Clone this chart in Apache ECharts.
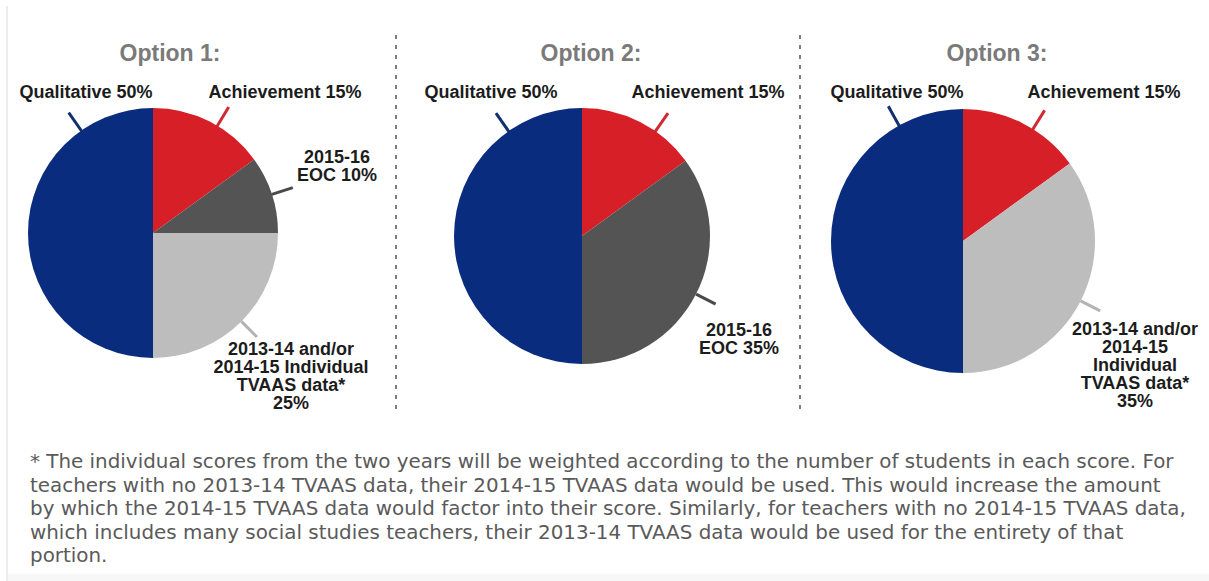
<!DOCTYPE html>
<html>
<head>
<meta charset="utf-8">
<script src="https://cdn.jsdelivr.net/npm/echarts@6/dist/echarts.min.js"></script>
<style>
html, body { margin: 0; padding: 0; background: #fff; }
#main { width: 1209px; height: 581px; }
</style>
</head>
<body>
<div id="main"></div>
<script>
// chart data
var optionTitles = ['Option 1:', 'Option 2:', 'Option 3:'];

var option1Names = ['Achievement', 'EOC', 'TVAAS', 'Qualitative'];
var option1Values = [15, 10, 25, 50];
var option1Labels = ['Achievement 15%', '2015-16\nEOC 10%', '2013-14 and/or\n2014-15 Individual\nTVAAS data*\n25%', 'Qualitative 50%'];

var option2Names = ['Achievement', 'EOC', 'Qualitative'];
var option2Values = [15, 35, 50];
var option2Labels = ['Achievement 15%', '2015-16\nEOC 35%', 'Qualitative 50%'];

var option3Names = ['Achievement', 'TVAAS', 'Qualitative'];
var option3Values = [15, 35, 50];
var option3Labels = ['Achievement 15%', '2013-14 and/or\n2014-15\nIndividual\nTVAAS data*\n35%', 'Qualitative 50%'];

var footnoteLines = [
	'* The individual scores from the two years will be weighted according to the number of students in each score. For',
	'teachers with no 2013-14 TVAAS data, their 2014-15 TVAAS data would be used. This would increase the amount',
	'by which the 2014-15 TVAAS data would factor into their score. Similarly, for teachers with no 2014-15 TVAAS data,',
	'which includes many social studies teachers, their 2013-14 TVAAS data would be used for the entirety of that',
	'portion.'
];

// look
var sliceColors = { Achievement: '#d71f27', EOC: '#545454', TVAAS: '#bdbdbd', Qualitative: '#0a2c7f' };
var lineColors = { Achievement: '#d02a33', EOC: '#4a4a4a', TVAAS: '#b3b3b3', Qualitative: '#12306e' };

// layout
var pieCenters = [[153, 233], [582, 236], [963, 241]];
var pieRadii = [125, 128, 132];
var titleX = [170, 591, 997];
var dividerX = [396, 800];
// label anchor offset from pie centre + leader angle (deg clockwise from top, null = slice middle)
var labelSpots = [
	{ Achievement: [132, -141, 31], EOC: [184, -67, null], TVAAS: [138, 143, null], Qualitative: [-67, -141, -35] },
	{ Achievement: [126, -144, 35], EOC: [157, 103, null], Qualitative: [-91, -144, -35] },
	{ Achievement: [141, -149, 32], TVAAS: [172, 124, null], Qualitative: [-66, -149, -29] }
];

function makeLayout(si, names) {
	return function (params) {
		var c = pieCenters[si], r = pieRadii[si];
		var spot = labelSpots[si][names[params.dataIndex]];
		var pts = params.labelLinePoints;
		if (spot[2] !== null) {
			var a = spot[2] * Math.PI / 180;
			var sx = Math.sin(a), sy = -Math.cos(a);
			var p1 = [c[0] + sx * (r - 2), c[1] + sy * (r - 2)];
			var p2 = [c[0] + sx * (r + 22), c[1] + sy * (r + 22)];
			pts = [p1, p2, p2];
		}
		return {
			x: c[0] + spot[0],
			y: c[1] + spot[1],
			align: 'center',
			verticalAlign: 'middle',
			labelLinePoints: pts
		};
	};
}

function pieSeries(si, names, values, labels) {
	return {
		type: 'pie',
		center: pieCenters[si],
		radius: pieRadii[si],
		startAngle: 90,
		clockwise: true,
		avoidLabelOverlap: false,
		silent: true,
		animation: false,
		data: names.map(function (n, k) {
			return {
				name: n,
				value: values[k],
				itemStyle: { color: sliceColors[n] },
				labelLine: { lineStyle: { color: lineColors[n] } }
			};
		}),
		label: {
			show: true,
			position: 'outside',
			alignTo: 'none',
			formatter: function (p) { return labels[p.dataIndex]; },
			color: '#1c1c1c',
			fontFamily: '"Liberation Sans", Arial, sans-serif',
			fontWeight: 'bold',
			fontSize: 18,
			lineHeight: 18
		},
		labelLine: { show: true, length: 22, length2: 0, lineStyle: { width: 3 } },
		labelLayout: makeLayout(si, names)
	};
}

var graphics = [];
graphics.push({ type: 'line', shape: { x1: 7, y1: 6, x2: 7, y2: 581 }, style: { stroke: '#ececec', lineWidth: 2 } });
graphics.push({ type: 'rect', shape: { x: 8, y: 574, width: 1201, height: 7 }, style: { fill: '#f7f7f7' } });
for (var i = 0; i < optionTitles.length; i++) {
	graphics.push({
		type: 'text', x: titleX[i], y: 53,
		style: { text: optionTitles[i], align: 'center', verticalAlign: 'middle', font: 'bold 23px "Liberation Sans", Arial, sans-serif', fill: '#7a7a7a' }
	});
}
for (var j = 0; j < dividerX.length; j++) {
	graphics.push({
		type: 'line', shape: { x1: dividerX[j], y1: 35, x2: dividerX[j], y2: 410 },
		style: { stroke: '#7d7d7d', lineWidth: 2, lineDash: [4, 6] }
	});
}
graphics.push({
	type: 'text', x: 30, y: 450,
	style: { text: footnoteLines.join('\n'), align: 'left', verticalAlign: 'top', font: '19.9px "DejaVu Sans", Verdana, sans-serif', lineHeight: 23.5, fill: '#5a5a5a' }
});

var chart = echarts.init(document.getElementById('main'), null, { renderer: 'svg' });
chart.setOption({
	backgroundColor: '#ffffff',
	animation: false,
	graphic: graphics,
	series: [
		pieSeries(0, option1Names, option1Values, option1Labels),
		pieSeries(1, option2Names, option2Values, option2Labels),
		pieSeries(2, option3Names, option3Values, option3Labels)
	]
});
</script>
</body>
</html>
